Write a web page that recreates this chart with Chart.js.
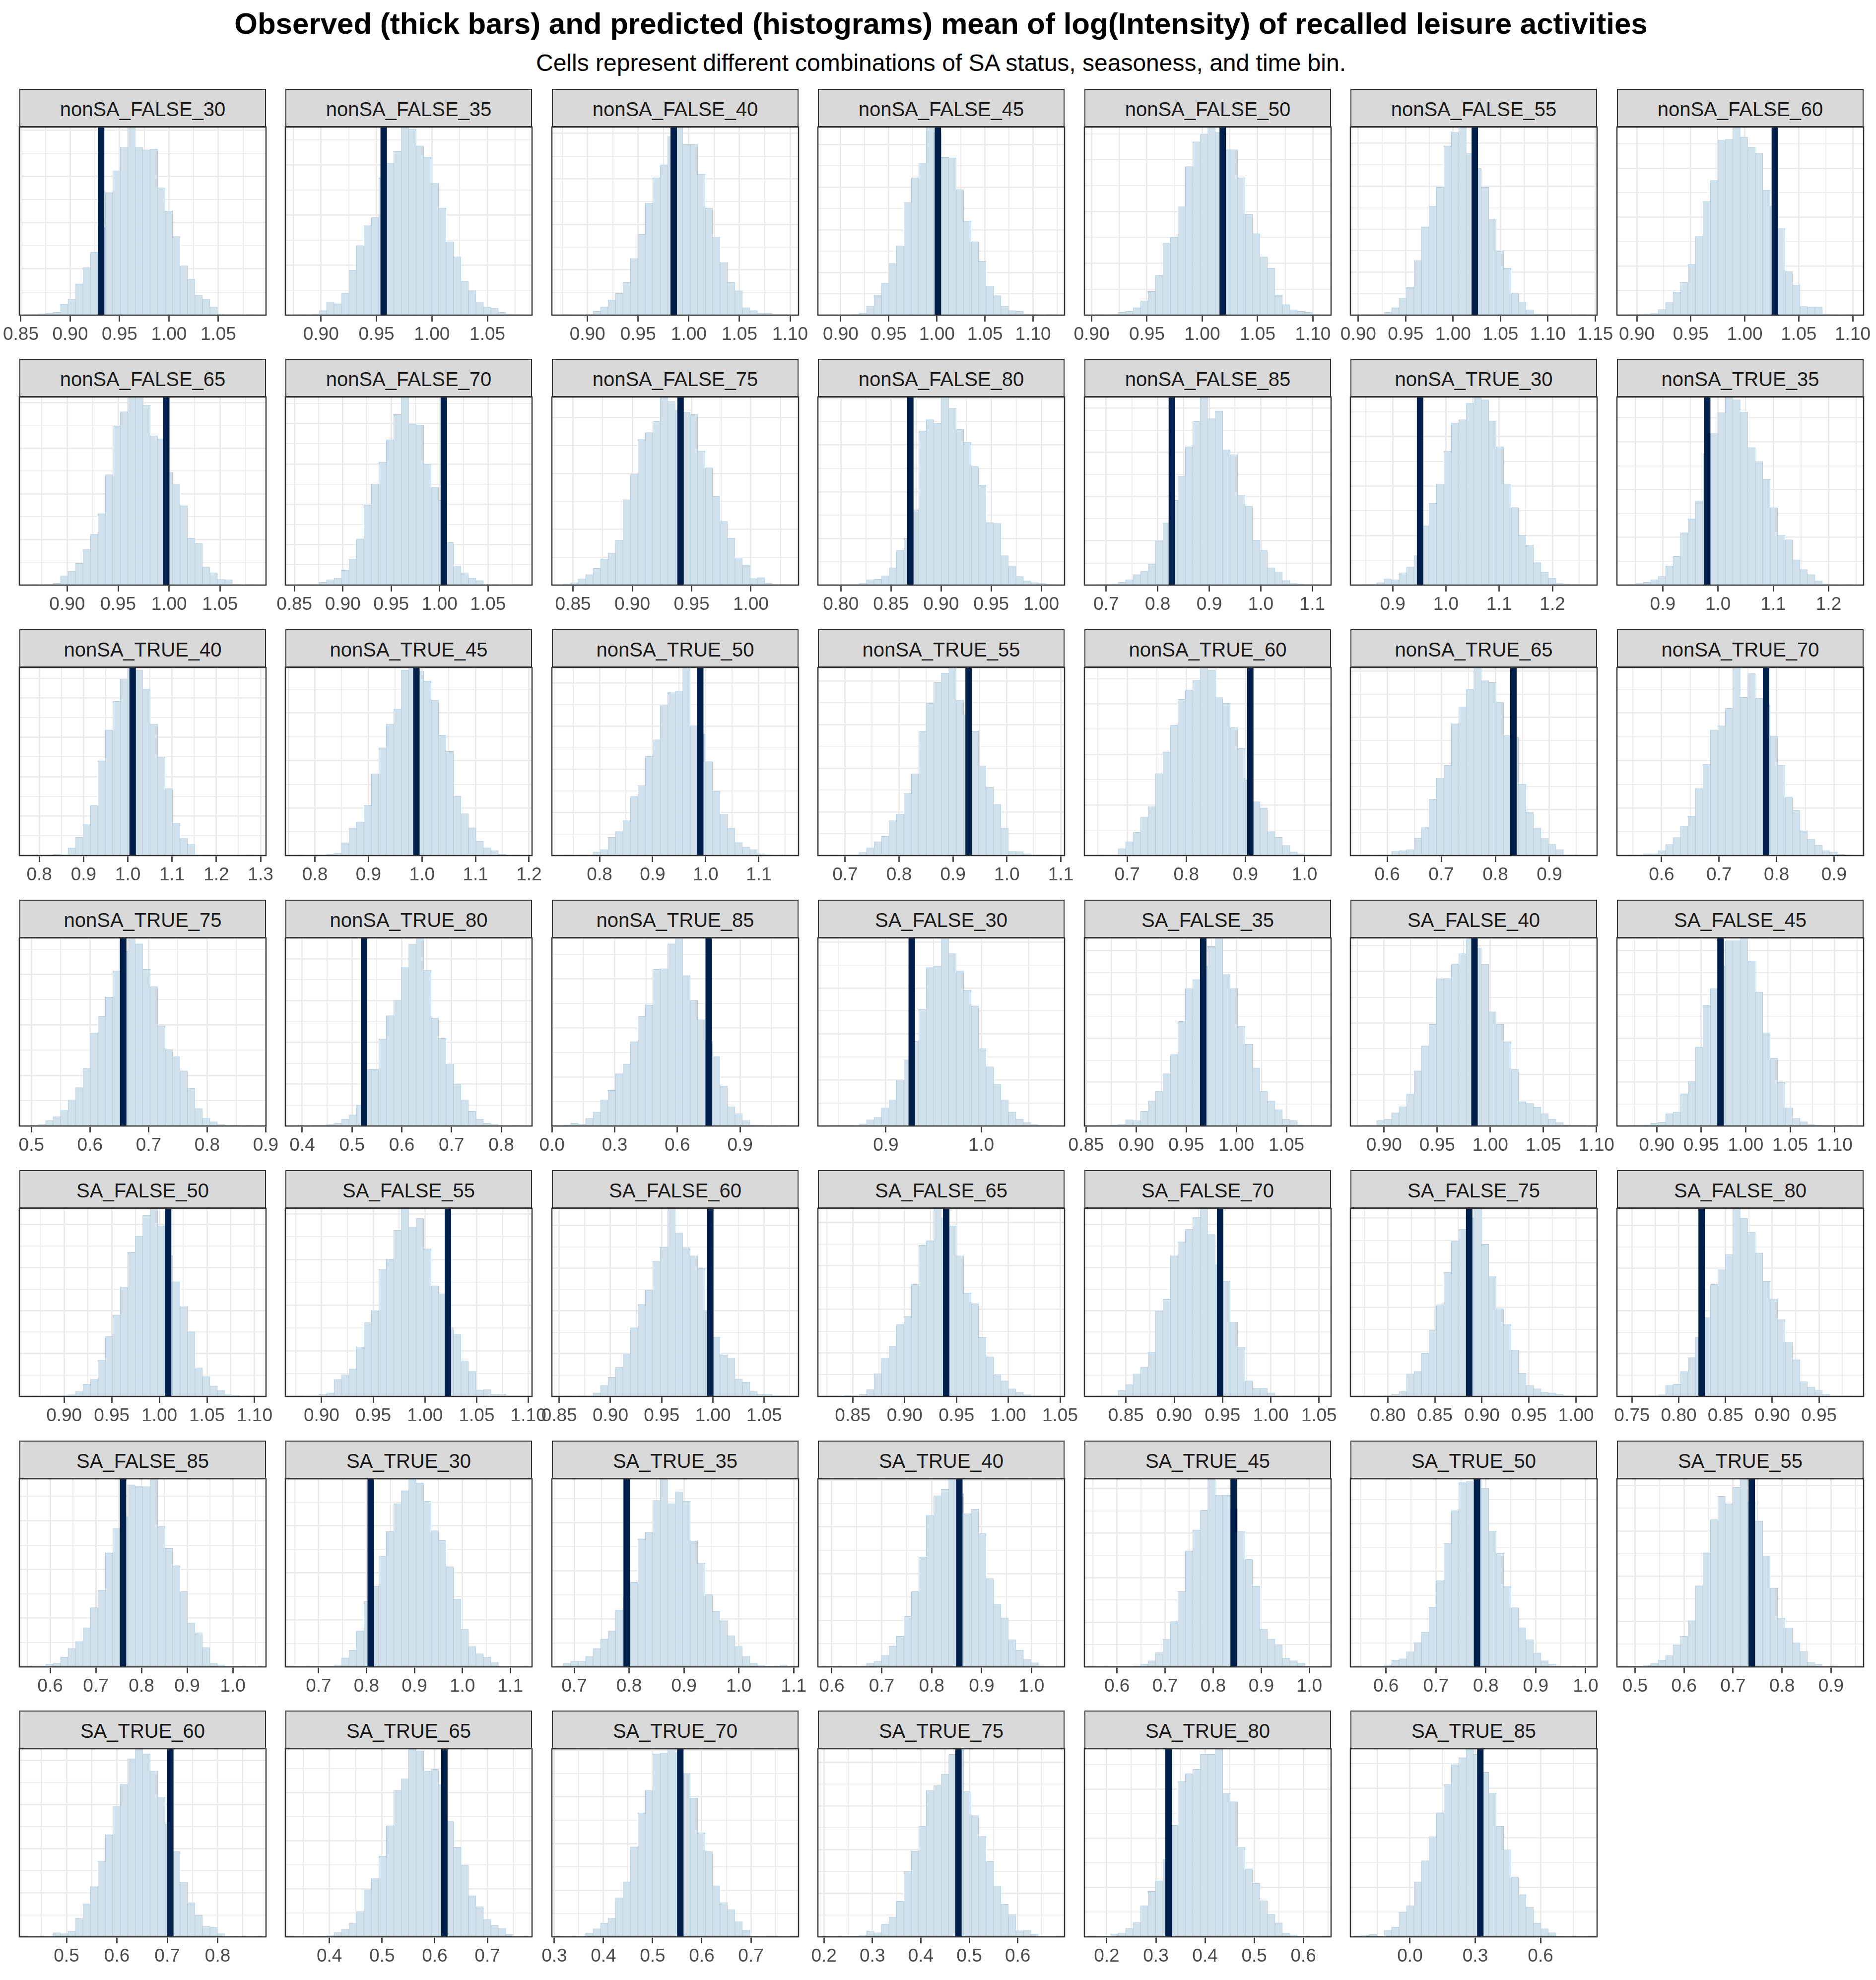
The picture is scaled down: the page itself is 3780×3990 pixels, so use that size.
<!DOCTYPE html>
<html><head><meta charset="utf-8">
<script src="https://cdn.jsdelivr.net/npm/chart.js"></script>
<style>
html,body{margin:0;padding:0;background:#fff;overflow:hidden;}
#page{position:relative;width:3780px;height:3990px;overflow:hidden;background:#fff;font-family:'Liberation Sans',Arial,Helvetica,sans-serif;}
.title{position:absolute;left:38px;width:3716px;text-align:center;white-space:nowrap;line-height:1;color:#000;}
#t1{top:18px;font-size:60px;font-weight:bold;}
#t2{top:103px;font-size:48px;}
.strip{position:absolute;box-sizing:border-box;border:2.5px solid #333333;background:#d9d9d9;color:#1a1a1a;font-size:40px;line-height:1;display:flex;align-items:center;justify-content:center;padding-top:4px;white-space:nowrap;}
canvas{position:absolute;}
</style></head>
<body><div id="page">
<div class="title" id="t1">Observed (thick bars) and predicted (histograms) mean of log(Intensity) of recalled leisure activities</div>
<div class="title" id="t2">Cells represent different combinations of SA status, seasoness, and time bin.</div>
</div>
<script>
// ---------------- data ----------------
const panelNames = ["nonSA_FALSE_30","nonSA_FALSE_35","nonSA_FALSE_40","nonSA_FALSE_45","nonSA_FALSE_50","nonSA_FALSE_55","nonSA_FALSE_60",
"nonSA_FALSE_65","nonSA_FALSE_70","nonSA_FALSE_75","nonSA_FALSE_80","nonSA_FALSE_85","nonSA_TRUE_30","nonSA_TRUE_35",
"nonSA_TRUE_40","nonSA_TRUE_45","nonSA_TRUE_50","nonSA_TRUE_55","nonSA_TRUE_60","nonSA_TRUE_65","nonSA_TRUE_70",
"nonSA_TRUE_75","nonSA_TRUE_80","nonSA_TRUE_85","SA_FALSE_30","SA_FALSE_35","SA_FALSE_40","SA_FALSE_45",
"SA_FALSE_50","SA_FALSE_55","SA_FALSE_60","SA_FALSE_65","SA_FALSE_70","SA_FALSE_75","SA_FALSE_80",
"SA_FALSE_85","SA_TRUE_30","SA_TRUE_35","SA_TRUE_40","SA_TRUE_45","SA_TRUE_50","SA_TRUE_55",
"SA_TRUE_60","SA_TRUE_65","SA_TRUE_70","SA_TRUE_75","SA_TRUE_80","SA_TRUE_85"];

// x-axis limits of each panel (data units)
const xLow = [0.8485,0.8679,0.8649,0.8763,0.8935,0.8917,0.8816,0.8531,0.8407,0.8322,0.7771,0.6579,0.8207,0.8171,
0.7549,0.7448,0.7102,0.6494,0.6276,0.532,0.5224,0.4794,0.3661,-0.0005,0.8288,0.8482,0.8683,0.8553,
0.853,0.865,0.8429,0.8163,0.8069,0.7603,0.7339,0.5325,0.6308,0.6593,0.5723,0.5323,0.5287,0.4631,
0.4064,0.3164,0.2951,0.1876,0.1546,-0.2737];
const xHigh = [1.0983,1.0902,1.1083,1.1327,1.1164,1.1519,1.1101,1.0951,1.0955,1.0402,1.0232,1.1363,1.2838,1.2633,
1.3123,1.2056,1.175,1.107,1.0449,0.9881,0.9514,0.9005,0.8618,1.18,1.0872,1.0946,1.1005,1.1325,
1.112,1.1035,1.0835,1.0543,1.0625,1.0224,0.9977,1.0728,1.1453,1.1088,1.066,1.0451,1.023,0.9665,
0.896,0.7848,0.7969,0.6966,0.6564,0.86];
// observed statistic (thick bar)
const observed = [0.9313,0.9565,0.9851,1.001,1.0185,1.0229,1.0279,0.9972,1.0044,0.9407,0.8693,0.8275,0.9515,0.9804,
1.0109,0.9896,0.9898,0.929,0.9082,0.8334,0.7818,0.6567,0.5242,0.75,0.9271,0.9669,0.9851,0.9717,
1.0092,1.0222,0.9974,0.9401,0.9475,0.8865,0.8245,0.7596,0.8088,0.7956,0.8554,0.8426,0.7825,0.7382,
0.706,0.6183,0.5564,0.4776,0.3258,0.3234];
// labelled tick spacing of each panel
const tickStep = [0.05,0.05,0.05,0.05,0.05,0.05,0.05,0.05,0.05,0.05,0.05,0.1,0.1,0.1,
0.1,0.1,0.1,0.1,0.1,0.1,0.1,0.1,0.1,0.3,0.1,0.05,0.05,0.05,
0.05,0.05,0.05,0.05,0.05,0.05,0.05,0.1,0.1,0.1,0.1,0.1,0.1,0.1,
0.1,0.1,0.1,0.1,0.1,0.3];
// count in the tallest bin (sets the spacing of the horizontal grid lines)
const peakCount = [407,376,414,441,363,438,384,412,466,337,403,425,380,394,
477,396,436,431,372,408,396,372,450,383,409,429,365,429,
438,412,440,432,438,422,440,386,400,391,403,422,394,415,
426,391,403,431,382,380];

// bin heights, 30 bins per panel, in % of the tallest bin
const nonSA_FALSE_30 = [0.2,0.7,1.1,1.5,5.8,8.5,16.7,25.3,33.5,46.5,65.2,76.8,89.2,100,89.2,87.9,88.3,67.8,55.4,41.8,26.2,19.1,10.6,8.4,4.3,0.6,0.4,0.2,0,0.2];
const nonSA_FALSE_35 = [0.2,0.4,0.6,2.4,7.0,6.1,11.7,24,37,47.6,52,73,81,87,100,99,90,84,70,57,39,31,18,13,7,4.3,3.7,1.5,0.6,0.2];
const nonSA_FALSE_40 = [0.2,0,0,0.2,2,4.3,8,11.5,17.3,30,43,59.5,73,80,95,100,90.7,90.7,75,57,41.5,28,17.3,13,4,2.4,1.1,1.1,0.2,0.2];
const nonSA_FALSE_45 = [0.2,0,0,0.2,1.1,4.8,10.8,17,27.5,36.8,60,73,81,100,97,83.8,83.6,66.7,50,39,28.7,15.4,10.4,4.8,2.4,2,0.6,0.2,0,0.2];
const nonSA_FALSE_50 = [0.2,0,0.2,1.5,2,4,7.6,12.6,21.3,38.3,41.5,57.6,79,92.2,96,100,97,88,88,73,53.5,43.3,31,25,10.8,5.6,2.8,2,1.5,0.3];
const nonSA_FALSE_55 = [0.2,0,0.2,1.5,4,9,15,29,47,58,68,90,97,100,86,78,68,51,34,25,11.7,7,2.8,0.6,0.2,0,0,0,0,0.2];
const nonSA_FALSE_60 = [0.2,0.2,0.6,0.9,3,6.7,12.3,17.3,27,41.8,60.4,71.6,93,93.5,100,94.8,89.4,86,66.5,58,46,23.2,16,4.6,4.3,4.3,0.6,0.2,0,0.2];
const nonSA_FALSE_65 = [0.2,0,0.4,1,5,7.4,11.5,19,27,38,58.7,84.6,92.2,100,99.6,95.4,79.3,77.8,60,53.7,42.2,25,22.2,9.6,6.5,3,2.8,0.3,0,0.2];
const nonSA_FALSE_70 = [0.2,0.2,0.4,1.5,2.8,3.7,7.8,13.9,24.6,42.6,53.7,65.4,77.2,90.7,100,85.6,85.2,64.3,52,45,22.6,10.2,6.5,3.7,2.4,0.4,0.2,0,0,0.2];
const nonSA_FALSE_75 = [0.6,1.3,3.3,5.6,8.9,13.9,17,24,45.4,58.9,77.4,81.1,87,100,97.6,93,92,90.7,71.3,62.4,47.2,33.9,25,14.4,10.7,3.5,4,1.1,0.4,0.2];
const nonSA_FALSE_80 = [0.2,0,0.4,0.4,0.9,2.8,3.1,5,9.3,18.5,25,40,82,88,86,100,94,82.8,76,63,53.2,33.3,32.8,15.7,10.2,4.6,2.2,1.3,0.9,0.2];
const nonSA_FALSE_85 = [0.2,0.2,0.6,1.5,2.8,5.6,7.4,11.1,23.5,33,45,58,73.5,87,100,88.5,92.6,71.9,69.4,47.8,42,24,18.5,9.3,7,2.4,0.9,0.6,0.4,0.2];
const nonSA_TRUE_30 = [0.2,0.2,1.3,3.3,2.8,6.5,9.6,15.7,31.5,43.5,53.7,71.3,86.1,88,96.7,100,98.5,87.4,73.5,53.7,41.3,26.5,21.3,12,6.9,3.7,0.9,0.6,0.2,0.4];
const nonSA_TRUE_35 = [0.2,0.9,1.5,2.8,4.6,10.2,15.2,27.8,35.2,44.8,70,80.6,91.7,100,98.5,92,73.1,65.7,56.1,41.1,26.5,24.1,13.5,8.3,5.6,2.2,0.6,0.2,0,0.2];
const nonSA_TRUE_40 = [0.2,0,0.2,0.7,0.4,4,9.7,16.5,26.7,50.4,66.8,82,93.7,100,98.3,88.5,69.9,52.3,35.6,17.1,9.1,5.9,0.4,0.2,0,0,0,0,0,0.2];
const nonSA_TRUE_45 = [0.2,0,0.2,0.4,0.7,1.3,6.8,14.6,18,26.7,43.4,57.3,69.9,77.9,98.7,100,98,92.8,82.6,64,55.3,31.7,22.3,14.8,7.6,4.1,2.6,0.7,0.4,0.2];
const nonSA_TRUE_50 = [0.2,0,0.2,0.4,1.9,3.2,9.7,12.8,18.6,31.4,37.1,52.7,61.6,79.8,87,87.6,100,69,64.7,50,34.3,22,14.6,6.9,4.5,3.2,0.9,0.2,0,0.2];
const nonSA_TRUE_55 = [0.2,0,0.4,0.4,1.7,4.1,7.4,10.2,18.6,22.1,32.9,43.4,66.2,81,92,97,100,82.6,75,66.2,47.6,36.4,27.2,14.6,2.2,2,0.9,0.2,0.2,0.2];
const nonSA_TRUE_60 = [0.2,0.4,0.4,3.7,7.4,12.4,20.4,26,43.6,55.1,69.4,83,88,93.2,100,98.3,84,81,68,57,40,28.6,25.4,12.8,9.7,5.4,1.9,0.9,0.4,0.2];
const nonSA_TRUE_65 = [0.2,0,0.2,0.2,2.2,2.6,3.2,9.3,15.2,30,41,48,70,79,88.4,100,93,92,81.6,63.8,63,38,23.2,14.6,9.1,5.9,3.2,0.4,0.2,0.4];
const nonSA_TRUE_70 = [0.2,0.4,0.9,0.9,2.6,5.9,9.6,15.8,20.8,35.6,48.6,66.8,69,78.3,100,84.1,96.8,83.7,80,63.6,48,31.2,24,13.2,8.7,5.6,2.6,1.9,0.7,0.2];
const nonSA_TRUE_75 = [0.2,0.9,2.8,5,8.3,13.9,20.4,30.6,49.4,58.3,68.5,82.4,93,100,96.9,83.3,74.1,53.3,40.7,37,29.3,20,9.3,4.1,2.2,0.9,0.4,0.2,0,0.2];
const nonSA_TRUE_80 = [0.2,0,0.2,0.2,0.7,1.5,3.7,5.9,11.1,30,30,46.3,58.7,67,84.3,96.7,100,82.8,57.4,46.7,32.8,22.2,13.9,7.8,3.7,1.5,0.9,0.4,0,0.2];
const nonSA_TRUE_85 = [0.6,1.5,0.9,4.1,7.4,13.9,18.9,27.8,33,44.8,58.3,64.4,83.3,83.7,96.9,100,80,66.7,56.5,45,37,21.3,10.2,6.5,2.8,0.6,0.2,0,0,0.2];
const SA_FALSE_30 = [0.2,0.2,0.2,0.4,1.1,3.3,4.6,9.6,13.9,24.1,35.2,45,62,84.3,85,100,91.7,82.4,72.2,63.9,41.1,31.5,22.2,13.9,7.4,3.7,1.9,0.7,0.2,0.2];
const SA_FALSE_35 = [0.2,0.2,0.6,0.9,3.3,2.8,7.8,13.3,18.5,27.8,38,55.6,73.1,77.8,85,95.4,100,80.6,73.1,53.1,43.5,30.9,18.5,13.3,8.7,3.7,2.8,0.6,0.2,0.2];
const SA_FALSE_40 = [0.2,0.4,2.8,3.7,7,10.2,17,29.3,42.6,54,78.3,78.5,86.1,91.7,100,94.7,86,60.7,54.1,44.8,30,13,12,10,6.5,3.7,1.9,0.6,0.2,0.2];
const SA_FALSE_45 = [0.2,0.2,0.6,1.5,2,6.5,7.4,17.2,23.7,42,64.3,73.1,85,98.5,98.5,100,87.8,71.3,49.6,36.1,23.1,9.6,4.1,2.2,0.7,0.2,0,0,0,0.2];
const SA_FALSE_50 = [0.2,0,0.2,0.2,0.6,0.9,2.6,6.5,9.1,19.3,31.9,43.3,58.1,76.7,85.2,96.3,100,90.7,75,61,47.8,34.4,15.2,10.6,5.6,3.2,0.9,0.7,0.4,0.2];
const SA_FALSE_55 = [0.2,0,0.4,1.3,1.9,9.1,11.5,14.6,26.3,39.3,45.7,67.6,73,88.3,100,90.2,94.8,78.5,58.7,54.6,36.5,33,18.9,13.3,3.5,3.7,1.3,1.3,0.2,0.2];
const SA_FALSE_60 = [0.2,0,0.2,0.4,1.9,5.9,10.2,15.6,22.6,36.5,48.9,56.5,71.7,79.4,100,86.9,79.1,74.8,68,45,31.5,22.2,20.4,9.3,7.6,2.6,1.3,1.1,0.2,0.2];
const SA_FALSE_65 = [0.2,0,0.7,0.4,1.3,3.7,12.2,20.4,26.9,38.3,42.6,59.6,80.4,82.8,100,95,90.7,74.8,55,49.4,31.3,21.1,11.5,8.3,4.1,2.2,0.9,0.4,0.2,0.2];
const SA_FALSE_70 = [0.2,0.2,0.4,3.1,6.3,12,15.6,23.5,45.4,51.7,74.8,82.2,88.9,95.2,100,86.1,70,61.3,39.4,26.1,8.3,4.3,4.3,1.9,0.4,0.2,0,0,0,0.2];
const SA_FALSE_75 = [0.2,0,0.2,0.6,1.3,2.6,12,13.3,22.9,35,48.7,65.9,82.6,88.9,95,100,80.9,63.7,46.7,38.3,24.8,12.4,5.9,4.1,2.2,1.9,1.3,0.2,0,0.2];
const SA_FALSE_80 = [0.2,0.2,0.2,0.2,0.9,5.9,6.5,13.3,20.7,31.5,42,59.6,67.4,75.4,100,94.8,87.4,76.3,61.1,51.8,40.9,28.9,19.6,7.8,5,3.1,1.3,0.4,0.2,0.2];
const SA_FALSE_85 = [0.6,0.6,1.5,2,5.2,9.8,13.5,20.9,31.5,40.9,60.7,73.7,80,96.9,96.3,95.9,100,74.6,63,53.9,40,23.3,18.1,10.2,1.9,1.1,0.2,0.4,0,0.2];
const SA_TRUE_30 = [0.2,0,0.2,0.4,0.4,1.1,4.8,8.9,19.1,34.8,43,58.9,72,86.7,93.7,100,97.8,88.1,72.4,67.2,53.3,36.1,20,10.7,7,5.2,2.4,0.4,0.2,0.2];
const SA_TRUE_35 = [1.9,3,3,5.6,9.8,14.8,19.1,30.2,37,45,68.1,71.5,88.5,100,86.7,93.1,88.1,66.9,55.2,38.5,29.6,24.6,16.7,10.7,5.6,1.9,0.9,0.2,0,1.1];
const SA_TRUE_40 = [0.2,0,0.2,0.2,0.6,1.9,3,6.1,11.1,16.3,26.9,40,58.5,80.6,91,94.4,100,92,81.5,83.9,70.9,46.9,33.3,26.1,14.4,8.9,4.1,2.2,0.6,0.2];
const SA_TRUE_45 = [0.2,0,0.2,0.4,0.4,0.6,1.5,3.3,7.6,14.8,24.1,40,61.7,72.8,83.3,100,91.3,91.3,84,72,57.2,43,20,14.8,11.7,4.6,3.3,1.9,0.2,0.2];
const SA_TRUE_50 = [0.2,0.2,0.2,1.1,3.7,4.3,8,13,18.5,31.7,45.9,65.7,83,98,98.5,100,95,72,60.4,42.8,31.5,20.9,14.4,7.4,3.3,1.5,0.6,0.2,0,0.2];
const SA_TRUE_55 = [0.2,0.2,0.9,1.9,3.7,6.1,11.7,16.3,24.6,43.1,60.7,78.3,90.7,86.7,95.4,100,88,77.6,58.7,42,25.9,20.7,12.8,8.3,2.4,1.5,0.4,0.6,0.2,0.2];
const SA_TRUE_60 = [0.2,0,0.2,2.2,1.7,3,9.7,17.5,26.7,40.2,54.4,69.5,81.1,94.8,100,97.2,88.2,74.2,60,45.4,29.1,18.1,11.5,5.5,5,1.7,0.2,0.5,0,0.2];
const SA_TRUE_65 = [0.2,0.5,0.2,0.5,0.9,2.4,4,7.1,13.4,25.1,31,42.9,59.1,77.9,84,100,99,88.2,89.1,81,61.5,47.7,38.1,21.9,16.1,9.2,6,4.5,1.4,0.2];
const SA_TRUE_70 = [0.2,0,0.2,1.9,4.3,7.3,9.9,20.8,29.3,47.8,65.9,77.9,97.2,97.7,100,98,86.8,73.8,55.3,45.4,27.2,18.1,14.5,8,3.6,0.5,0.2,0,0,0.2];
const SA_TRUE_75 = [0.2,0,0.2,0.5,0.9,3.1,2.2,6.8,10.6,18.9,34.8,45.6,58.8,77.8,80.4,86.6,97,100,77.3,64.5,53.4,40,27,17.3,11.8,3.3,3.5,1.4,0.2,0.2];
const SA_TRUE_80 = [0.2,0.3,1.6,2.1,4.5,7.6,16.6,24.2,29.8,41.2,59.3,82.6,86.8,89.1,97,97,100,76.2,71.9,47.6,36.2,28.4,19.2,12,7.4,1.9,1.1,0.3,0,0.2];
const SA_TRUE_85 = [0.9,1.2,0.5,3.5,5.2,13.2,16.6,29.3,40.5,53.2,66,81.1,91.6,95.3,100,97,87.5,76.2,58.8,46.3,31.9,22.5,15.8,7.3,4.3,2.2,0.5,0.2,0,0.2];

const binHeights = [nonSA_FALSE_30,nonSA_FALSE_35,nonSA_FALSE_40,nonSA_FALSE_45,nonSA_FALSE_50,nonSA_FALSE_55,nonSA_FALSE_60,
nonSA_FALSE_65,nonSA_FALSE_70,nonSA_FALSE_75,nonSA_FALSE_80,nonSA_FALSE_85,nonSA_TRUE_30,nonSA_TRUE_35,
nonSA_TRUE_40,nonSA_TRUE_45,nonSA_TRUE_50,nonSA_TRUE_55,nonSA_TRUE_60,nonSA_TRUE_65,nonSA_TRUE_70,
nonSA_TRUE_75,nonSA_TRUE_80,nonSA_TRUE_85,SA_FALSE_30,SA_FALSE_35,SA_FALSE_40,SA_FALSE_45,
SA_FALSE_50,SA_FALSE_55,SA_FALSE_60,SA_FALSE_65,SA_FALSE_70,SA_FALSE_75,SA_FALSE_80,
SA_FALSE_85,SA_TRUE_30,SA_TRUE_35,SA_TRUE_40,SA_TRUE_45,SA_TRUE_50,SA_TRUE_55,
SA_TRUE_60,SA_TRUE_65,SA_TRUE_70,SA_TRUE_75,SA_TRUE_80,SA_TRUE_85];

// ---------------- layout / style ----------------
const PANEL_X0 = 38.5, COL_PITCH = 536.5, PANEL_W = 497;
const ROW_Y0 = 178.5, ROW_PITCH = 544.8, STRIP_H = 77, PLOT_H = 379;
const PAD_X = 50, PAD_TOP = 4, AXIS_H = 80, N_COLS = 7, N_BINS = 30;
const FILL = '#d1e1ec', OUTLINE = '#b3cde0', OBS = '#011f4b', GRID = '#ebebeb', FRAME = '#333333';

Chart.defaults.font.family = "'Liberation Sans', Arial, Helvetica, sans-serif";

const framePlugin = {
  id: 'panelFrame',
  afterDatasetsDraw(chart) {
    const a = chart.chartArea, c = chart.ctx;
    c.save();
    c.strokeStyle = FRAME;
    c.lineWidth = 2.5;
    c.strokeRect(a.left, a.top, a.right - a.left, a.bottom - a.top);
    c.restore();
  }
};

const page = document.getElementById('page');

panelNames.forEach((name, i) => {
  const col = i % N_COLS, row = Math.floor(i / N_COLS);
  const left = Math.round(PANEL_X0 + COL_PITCH * col);
  const top = Math.round(ROW_Y0 + ROW_PITCH * row);

  const strip = document.createElement('div');
  strip.className = 'strip';
  strip.style.left = left + 'px';
  strip.style.top = top + 'px';
  strip.style.width = PANEL_W + 'px';
  strip.style.height = STRIP_H + 'px';
  strip.textContent = name;
  page.appendChild(strip);

  const cv = document.createElement('canvas');
  cv.width = PANEL_W + 2 * PAD_X;
  cv.height = PAD_TOP + PLOT_H + AXIS_H;
  cv.style.left = (left - PAD_X) + 'px';
  cv.style.top = (top + STRIP_H - PAD_TOP) + 'px';
  page.appendChild(cv);

  const lo = xLow[i], hi = xHigh[i], step = tickStep[i];
  const bw = (hi - lo) / (N_BINS + 3);          // 30 bins + 5% expansion each side
  const dec = step < 0.1 ? 2 : 1;

  // x ticks: labelled breaks + unlabelled minor breaks half way between
  const xt = [];
  for (let k = Math.ceil(lo / step - 1e-9); k * step <= hi + 1e-9; k++)
    xt.push({ v: +(k * step).toFixed(6), major: true });
  for (let m = Math.ceil(lo / step - 0.5 - 1e-9); (m + 0.5) * step <= hi + 1e-9; m++)
    xt.push({ v: +((m + 0.5) * step).toFixed(6), major: false });
  xt.sort((a, b) => a.v - b.v);

  // y grid: every 50 counts, thicker every 100
  const ystep = 5000 / peakCount[i];
  const yt = [];
  for (let j = 0; j * ystep <= 100 + 1e-9; j++) yt.push({ v: j * ystep, major: j % 2 === 0 });

  const heights = binHeights[i];
  const bars = heights.map((h, k) => ({ x: lo + (k + 2) * bw, y: h }));
  const obs = observed[i];

  new Chart(cv, {
    type: 'bar',
    data: {
      datasets: [
        { type: 'line', data: [{ x: obs, y: 0 }, { x: obs, y: 100 }], borderColor: OBS, borderWidth: 13,
          pointRadius: 0, borderCapStyle: 'butt', fill: false, tension: 0, order: 0 },
        { type: 'bar', data: bars, backgroundColor: FILL, borderColor: OUTLINE, borderWidth: 1,
          borderSkipped: 'start', barPercentage: 1, categoryPercentage: 1, order: 1 }
      ]
    },
    options: {
      responsive: false, animation: false, devicePixelRatio: 1, events: [],
      layout: { padding: { left: PAD_X, right: PAD_X, top: PAD_TOP, bottom: 0 } },
      plugins: { legend: { display: false }, tooltip: { enabled: false }, title: { display: false } },
      scales: {
        x: {
          type: 'linear', min: lo, max: hi, offset: false, beginAtZero: false,
          grid: { offset: false, color: GRID, drawOnChartArea: true, tickLength: 13,
            lineWidth: c => (xt[c.index] && xt[c.index].major) ? 3 : 2,
            tickColor: c => (xt[c.index] && xt[c.index].major) ? FRAME : 'rgba(0,0,0,0)',
            tickWidth: 2.7 },
          border: { display: false },
          ticks: { autoSkip: false, maxRotation: 0, minRotation: 0, padding: 5, color: '#4d4d4d',
            font: { size: 37 },
            callback: (v, idx) => (xt[idx] && xt[idx].major) ? xt[idx].v.toFixed(dec) : '' },
          afterBuildTicks: s => { s.ticks = xt.map(t => ({ value: t.v })); },
          afterFit: s => { s.height = AXIS_H; }
        },
        y: {
          type: 'linear', min: 0, max: 100,
          grid: { color: GRID, drawTicks: false,
            lineWidth: c => (yt[c.index] && yt[c.index].major) ? 2.8 : 1.8 },
          border: { display: false },
          ticks: { display: false },
          afterBuildTicks: s => { s.ticks = yt.map(t => ({ value: t.v })); },
          afterFit: s => { s.width = 0; }
        }
      }
    },
    plugins: [framePlugin]
  });
});
</script>
</body></html>
